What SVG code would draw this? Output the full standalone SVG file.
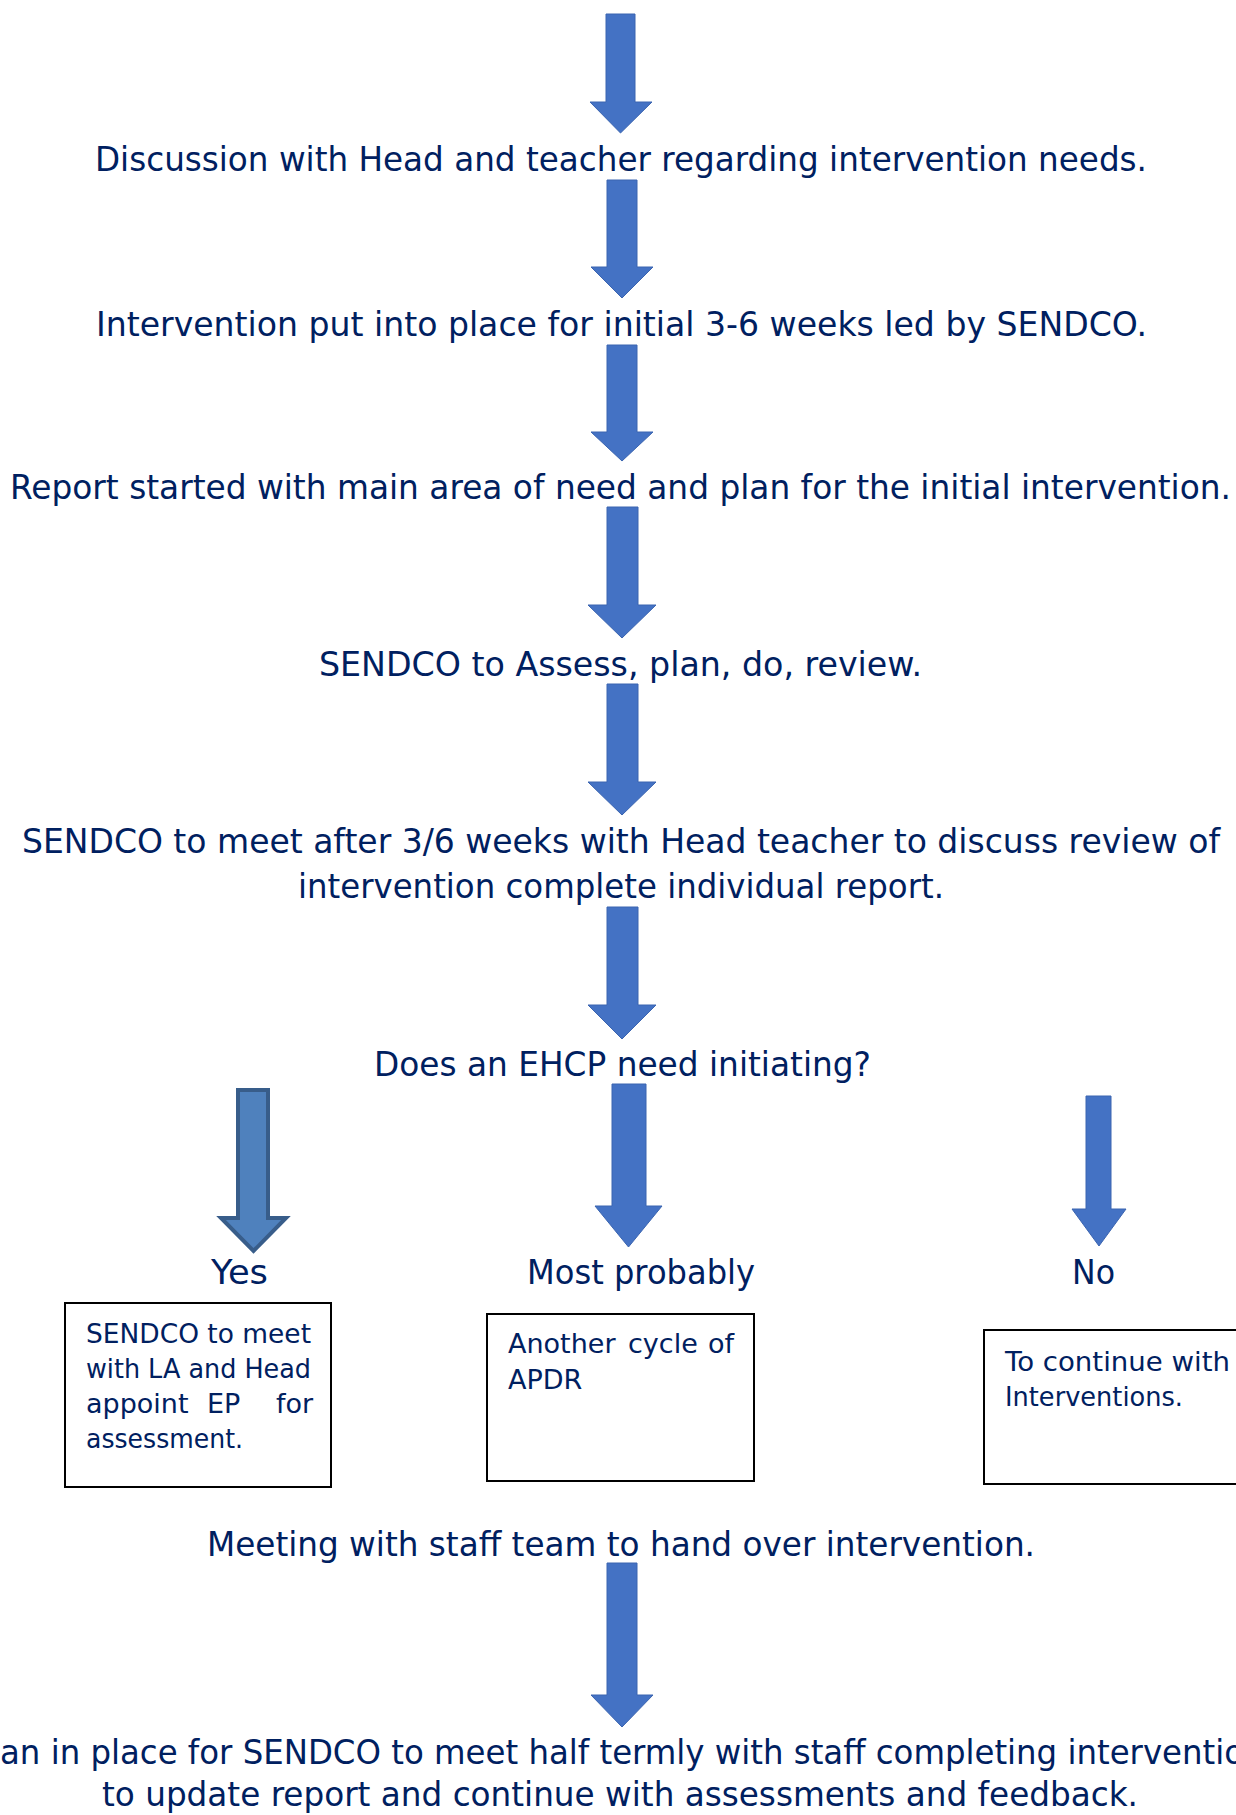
<svg xmlns="http://www.w3.org/2000/svg" width="1236" height="1815" viewBox="0 0 1236 1815">
<style>
  .t { font-family: "DejaVu Sans", Verdana, sans-serif; font-size: 33px; fill: #002060; }
  .b { font-family: "DejaVu Sans", Verdana, sans-serif; font-size: 27px; fill: #002060; }
  .box { fill: #ffffff; stroke: #000000; stroke-width: 2; }
  .arr { fill: #4472C4; stroke: #3A64B0; stroke-width: 1; }
  .arrY { fill: #4F81BD; stroke: #385D8A; stroke-width: 4; stroke-linejoin: miter; }
</style>
<rect x="0" y="0" width="1236" height="1815" fill="#ffffff"/>

<g id="connectors">
  <polygon class="arr" points="606,14 635,14 635,102 652,102 620.5,133 590,102 606,102"/>
  <polygon class="arr" points="607,180 637,180 637,267 653,267 622,298 591,267 607,267"/>
  <polygon class="arr" points="607,345 637,345 637,432 653,432 622,461 591,432 607,432"/>
  <polygon class="arr" points="607,507 638,507 638,605 656,605 622,638 588,605 607,605"/>
  <polygon class="arr" points="607,684 638,684 638,782 656,782 622,815 588,782 607,782"/>
  <polygon class="arr" points="607,907 638,907 638,1005 656,1005 622,1039 588,1005 607,1005"/>
  <polygon class="arrY" points="238,1090 268,1090 268,1218 286,1218 253.5,1251 221,1218 238,1218"/>
  <polygon class="arr" points="612,1084 646,1084 646,1206 662,1206 628.5,1247 595,1206 612,1206"/>
  <polygon class="arr" points="1086,1096 1111,1096 1111,1209 1126,1209 1099,1246 1072,1209 1086,1209"/>
  <polygon class="arr" points="607,1563 637,1563 637,1695 653,1695 622,1727 591,1695 607,1695"/>
</g>

<g id="n1"><text class="t" x="95" y="171" textLength="1052" lengthAdjust="spacingAndGlyphs">Discussion with Head and teacher regarding intervention needs.</text></g>
<g id="n2"><text class="t" x="96" y="336" textLength="1051" lengthAdjust="spacingAndGlyphs">Intervention put into place for initial 3-6 weeks led by SENDCO.</text></g>
<g id="n3"><text class="t" x="10" y="499" textLength="1221" lengthAdjust="spacingAndGlyphs">Report started with main area of need and plan for the initial intervention.</text></g>
<g id="n4"><text class="t" x="319" y="676" textLength="603" lengthAdjust="spacingAndGlyphs">SENDCO to Assess, plan, do, review.</text></g>
<g id="n5">
  <text class="t" x="22" y="853" textLength="1198" lengthAdjust="spacingAndGlyphs">SENDCO to meet after 3/6 weeks with Head teacher to discuss review of</text>
  <text class="t" x="298" y="898" textLength="646" lengthAdjust="spacingAndGlyphs">intervention complete individual report.</text>
</g>
<g id="n6"><text class="t" x="374" y="1076" textLength="497" lengthAdjust="spacingAndGlyphs">Does an EHCP need initiating?</text></g>

<g id="yes-label"><text class="t" x="211" y="1284" textLength="57" lengthAdjust="spacingAndGlyphs">Yes</text></g>
<g id="probably-label"><text class="t" x="527" y="1284" textLength="228" lengthAdjust="spacingAndGlyphs">Most probably</text></g>
<g id="no-label"><text class="t" x="1072" y="1284" textLength="43" lengthAdjust="spacingAndGlyphs">No</text></g>

<g id="box-yes">
  <rect class="box" x="65" y="1303" width="266" height="184"/>
  <text class="b" x="86" y="1343" textLength="225" lengthAdjust="spacingAndGlyphs">SENDCO to meet</text>
  <text class="b" x="86" y="1378" textLength="225" lengthAdjust="spacingAndGlyphs">with LA and Head</text>
  <text class="b" y="1413"><tspan x="86">appoint</tspan><tspan x="207">EP</tspan><tspan x="276">for</tspan></text>
  <text class="b" x="86" y="1448" textLength="157" lengthAdjust="spacingAndGlyphs">assessment.</text>
</g>

<g id="box-probably">
  <rect class="box" x="487" y="1314" width="267" height="167"/>
  <text class="b" y="1353"><tspan x="508">Another</tspan><tspan x="628">cycle</tspan><tspan x="708">of</tspan></text>
  <text class="b" x="508" y="1389">APDR</text>
</g>

<g id="box-no">
  <rect class="box" x="984" y="1330" width="270" height="154"/>
  <text class="b" x="1005" y="1371" textLength="225" lengthAdjust="spacingAndGlyphs">To continue with</text>
  <text class="b" x="1005" y="1406" textLength="178" lengthAdjust="spacingAndGlyphs">Interventions.</text>
</g>

<g id="n7"><text class="t" x="207" y="1556" textLength="828" lengthAdjust="spacingAndGlyphs">Meeting with staff team to hand over intervention.</text></g>
<g id="n8">
  <text class="t" x="0" y="1764" textLength="1244" lengthAdjust="spacingAndGlyphs">an in place for SENDCO to meet half termly with staff completing interventio</text>
  <text class="t" x="102" y="1806" textLength="1036" lengthAdjust="spacingAndGlyphs">to update report and continue with assessments and feedback.</text>
</g>
</svg>
